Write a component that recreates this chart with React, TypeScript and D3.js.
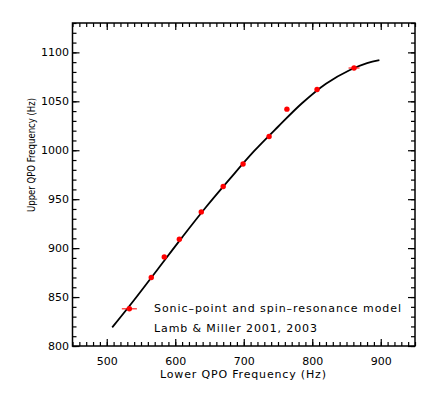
import React, { useEffect, useRef } from 'react'
import * as d3 from 'd3'

// measured QPO pairs (Hz)
const lowerQpo = [533, 565, 584, 606, 638, 670, 699, 737, 763, 807, 861]
const upperQpo = [838, 870, 891, 909, 937, 963, 986, 1014, 1042, 1062, 1084]
const lowerErr = [11, 0, 0, 0, 0, 0, 0, 0, 0, 0, 8]

// model curve
const modelLower = [508, 540, 575, 610, 645, 680, 715, 750, 785, 820, 855, 880, 898]
const modelUpper = [819, 847, 879, 911, 942, 971, 999, 1024, 1048, 1068, 1082, 1089, 1092]

const xMajor = [500, 600, 700, 800, 900]
const yMajor = [800, 850, 900, 950, 1000, 1050, 1100]
const legendLines = ['Sonic–point and spin–resonance model', 'Lamb & Miller 2001, 2003']

const W = 436
const H = 393
const FONT = '"DejaVu Sans", sans-serif'

export default function App() {
  const svgRef = useRef<SVGSVGElement>(null)

  useEffect(() => {
    const svg = d3.select(svgRef.current)
    svg.selectAll('*').remove()

    const left = 72.5, right = 415, top = 23, bottom = 346
    const x = d3.scaleLinear().domain([450, 950]).range([left, right])
    const y = d3.scaleLinear().domain([800, 1130]).range([bottom, top])

    const xMinor = d3.range(450, 951, 10)
    const yMinor = d3.range(800, 1131, 10)

    const styleAxis = (g: any) => {
      g.select('.domain').remove()
      g.selectAll('line').attr('stroke', '#000').attr('stroke-width', 1.2)
      g.selectAll('text')
        .attr('font-family', FONT)
        .attr('font-size', 11)
        .attr('fill', '#000')
    }

    // bottom
    svg.append('g').attr('transform', `translate(0,${bottom})`)
      .call(d3.axisBottom(x).tickValues(xMinor).tickSize(-4).tickFormat(() => ''))
      .call(styleAxis)
    svg.append('g').attr('transform', `translate(0,${bottom})`)
      .call(d3.axisBottom(x).tickValues(xMajor).tickSize(-7).tickPadding(11).tickFormat(d3.format('d')))
      .call(styleAxis)
    // top
    svg.append('g').attr('transform', `translate(0,${top})`)
      .call(d3.axisTop(x).tickValues(xMinor).tickSize(-4).tickFormat(() => ''))
      .call(styleAxis)
    svg.append('g').attr('transform', `translate(0,${top})`)
      .call(d3.axisTop(x).tickValues(xMajor).tickSize(-7).tickFormat(() => ''))
      .call(styleAxis)
    // left
    svg.append('g').attr('transform', `translate(${left},0)`)
      .call(d3.axisLeft(y).tickValues(yMinor).tickSize(-4).tickFormat(() => ''))
      .call(styleAxis)
    svg.append('g').attr('transform', `translate(${left},0)`)
      .call(d3.axisLeft(y).tickValues(yMajor).tickSize(-7).tickPadding(3.5).tickFormat(d3.format('d')))
      .call(styleAxis)
    // right
    svg.append('g').attr('transform', `translate(${right},0)`)
      .call(d3.axisRight(y).tickValues(yMinor).tickSize(-4).tickFormat(() => ''))
      .call(styleAxis)
    svg.append('g').attr('transform', `translate(${right},0)`)
      .call(d3.axisRight(y).tickValues(yMajor).tickSize(-7).tickFormat(() => ''))
      .call(styleAxis)

    svg.append('rect')
      .attr('x', left).attr('y', top)
      .attr('width', right - left).attr('height', bottom - top)
      .attr('fill', 'none').attr('stroke', '#000').attr('stroke-width', 1.5)

    // model curve
    const model = modelLower.map((v, i) => [v, modelUpper[i]] as [number, number])
    svg.append('path')
      .datum(model)
      .attr('d', d3.line<[number, number]>().x(d => x(d[0])).y(d => y(d[1])).curve(d3.curveCatmullRom))
      .attr('fill', 'none')
      .attr('stroke', '#000')
      .attr('stroke-width', 1.8)

    // data points
    const pts = lowerQpo.map((v, i) => ({ lo: v, up: upperQpo[i], err: lowerErr[i] }))
    svg.selectAll('.err')
      .data(pts.filter(p => p.err > 0))
      .join('line')
      .attr('x1', p => x(p.lo - p.err)).attr('x2', p => x(p.lo + p.err))
      .attr('y1', p => y(p.up)).attr('y2', p => y(p.up))
      .attr('stroke', '#ff2020').attr('stroke-width', 1.2)
    svg.selectAll('.pt')
      .data(pts)
      .join('circle')
      .attr('cx', p => x(p.lo)).attr('cy', p => y(p.up))
      .attr('r', 2.7)
      .attr('fill', '#ff0000')

    // legend text
    svg.selectAll('.legend')
      .data(legendLines)
      .join('text')
      .attr('x', 154)
      .attr('y', (_, i) => 312 + i * 19.5)
      .attr('font-family', FONT)
      .attr('font-size', 11)
      .attr('textLength', (_, i) => (i === 0 ? 247 : 163))
      .attr('lengthAdjust', 'spacing')
      .text(d => d)

    // axis titles
    svg.append('text')
      .attr('x', 243).attr('y', 378)
      .attr('text-anchor', 'middle')
      .attr('font-family', FONT).attr('font-size', 11)
      .attr('textLength', 166).attr('lengthAdjust', 'spacing')
      .text('Lower QPO Frequency (Hz)')
    svg.append('text')
      .attr('transform', `translate(35,155) rotate(-90)`)
      .attr('text-anchor', 'middle')
      .attr('font-family', FONT).attr('font-size', 10)
      .attr('textLength', 114).attr('lengthAdjust', 'spacingAndGlyphs')
      .text('Upper QPO Frequency (Hz)')
  }, [])

  return (
    <div style={{ width: W, height: H }}>
      <svg
        ref={svgRef}
        width={W}
        height={H}
        style={{ position: 'absolute', left: 0, top: 0, background: '#fff' }}
      />
    </div>
  )
}
